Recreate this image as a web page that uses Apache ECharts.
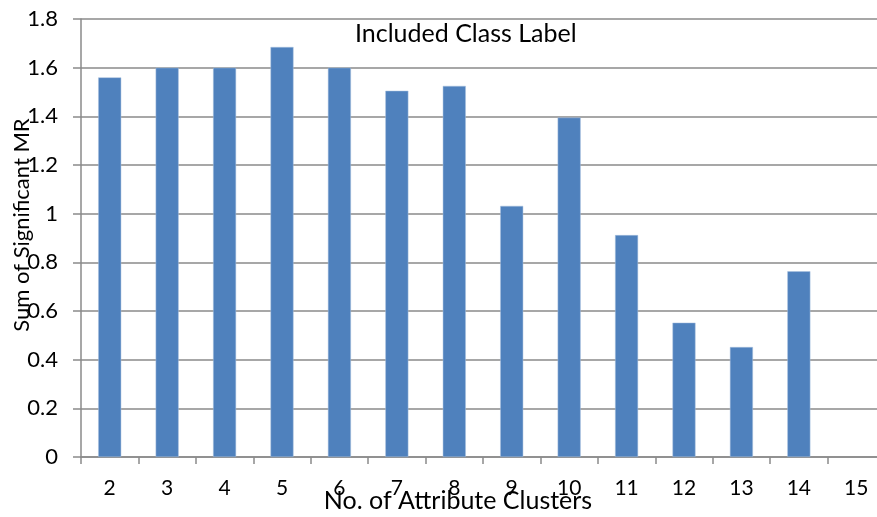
<!DOCTYPE html>
<html>
<head>
<meta charset="utf-8">
<script src="https://cdn.jsdelivr.net/npm/echarts@6/dist/echarts.min.js"></script>
<style>
  html, body { margin: 0; padding: 0; background: #fff; }
  #chart { width: 877px; height: 517px; }
</style>
</head>
<body>
<div id="chart"></div>
<script>
// Number of attribute clusters on the x axis
const clusters = ['2', '3', '4', '5', '6', '7', '8', '9', '10', '11', '12', '13', '14', '15'];
// Sum of significant MR per cluster count (no value for 15)
const sumMR = [1.56, 1.60, 1.60, 1.685, 1.60, 1.505, 1.525, 1.032, 1.395, 0.912, 0.552, 0.452, 0.763, null];

const FONT = 'Lato, "Open Sans", sans-serif';
const GRAY = '#8a8a8a';

const chart = echarts.init(document.getElementById('chart'));
chart.setOption({
  animation: false,
  backgroundColor: '#fff',
  title: {
    text: 'Included Class Label',
    left: 350,
    top: 16,
    textStyle: { fontFamily: FONT, fontSize: 25, fontWeight: 'normal', color: '#000' }
  },
  grid: { left: 81, top: 19, width: 804, height: 438, outerBoundsMode: 'none', containLabel: false },
  xAxis: {
    type: 'category',
    data: clusters,
    name: 'No. of Attribute Clusters',
    nameLocation: 'middle',
    nameGap: 31,
    nameMoveOverlap: false,
    nameTextStyle: { fontFamily: FONT, fontSize: 25, color: '#000', padding: [0, 50, 0, 0] },
    axisLine: { lineStyle: { color: GRAY, width: 1.5 } },
    axisTick: { show: true, length: 7, lineStyle: { color: GRAY, width: 1.5 } },
    axisLabel: { margin: 21, fontFamily: FONT, fontSize: 21, color: '#000' }
  },
  yAxis: {
    type: 'value',
    min: 0,
    max: 1.8,
    interval: 0.2,
    name: 'Sum of Significant MR',
    nameLocation: 'middle',
    nameGap: 48,
    nameMoveOverlap: false,
    nameTextStyle: { fontFamily: FONT, fontSize: 22, color: '#000', padding: [0, 0, 0, 26] },
    axisLine: { show: true, lineStyle: { color: GRAY, width: 1.5 } },
    axisTick: { show: true, length: 8, lineStyle: { color: GRAY, width: 1.5 } },
    splitLine: { lineStyle: { color: GRAY, width: 1.5 } },
    axisLabel: {
      margin: 23, fontFamily: FONT, fontSize: 22, color: '#000',
      formatter: v => String(Math.round(v * 10) / 10)
    }
  },
  series: [{
    type: 'bar',
    data: sumMR,
    barWidth: 23,
    itemStyle: { color: '#4F81BD', borderColor: '#a9c1df', borderWidth: 0.5 }
  }]
});
</script>
</body>
</html>
